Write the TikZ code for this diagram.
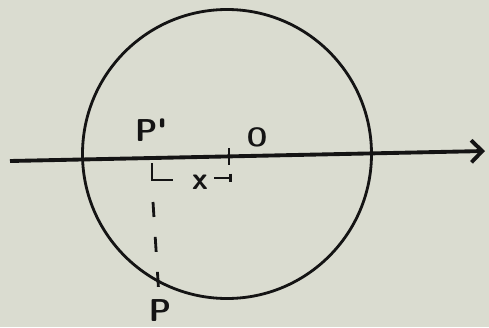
\documentclass[tikz,border=0pt]{standalone}
\usepackage{tikz}
\usetikzlibrary{calc,arrows.meta}
\definecolor{paper}{RGB}{218,220,208}
\definecolor{ink}{RGB}{20,20,20}
\tikzset{
  lbl/.style={font=\sffamily\bfseries\fontsize{18}{20}\selectfont,inner sep=1pt,text=ink},
  small lbl/.style={font=\sffamily\bfseries\fontsize{15}{17}\selectfont,inner sep=1pt,text=ink},
}

\begin{document}
\begin{tikzpicture}[>={Straight Barb[length=2.2mm,width=4.4mm]},line width=1.6pt,draw=ink]
  \fill[paper] (0,0) rectangle (9.78,6.54);
  \useasboundingbox (0,0) rectangle (9.78,6.54);
  % circle and axis
  \coordinate (c) at (4.54,3.46);
  \draw (c) circle (2.89);
  \coordinate (ax0) at (0.2,3.32); \coordinate (ax1) at (9.7,3.52);
  \draw[->,line width=2.2pt] (ax0)--(ax1);
  % points O, P', P
  \coordinate (O) at (4.58,3.41);
  \coordinate (Pp) at (3.04,3.38);
  \coordinate (P) at ($(c)+(241.5:2.89)$);
  \draw ($(O)+(0,0.17)$)--($(O)+(0,-0.17)$);
  % distance x from P' to O
  \draw[line width=1.4pt] ($(Pp)+(0,-0.1)$) |- ++(0.42,-0.34);
  \draw[-{Bar[width=5pt]},line width=1.4pt] ($(O)+(-0.3,-0.43)$)--($(O)+(0.05,-0.43)$);
  % projection of P
  \draw[dash pattern=on 0.3cm off 0.4cm] ($(Pp)+(0.02,-0.88)$)--($(P)+(0.01,-0.17)$);
  % labels
  \node[lbl] (lPp) at (3.02,3.94) {P\textquotesingle};
  \node[small lbl] (lO) at (5.14,3.80) {O};
  \node[lbl] (lx) at (4.0,2.90) {x};
  \node[lbl] (lP) at (3.20,0.32) {P};
\end{tikzpicture}
\end{document}
